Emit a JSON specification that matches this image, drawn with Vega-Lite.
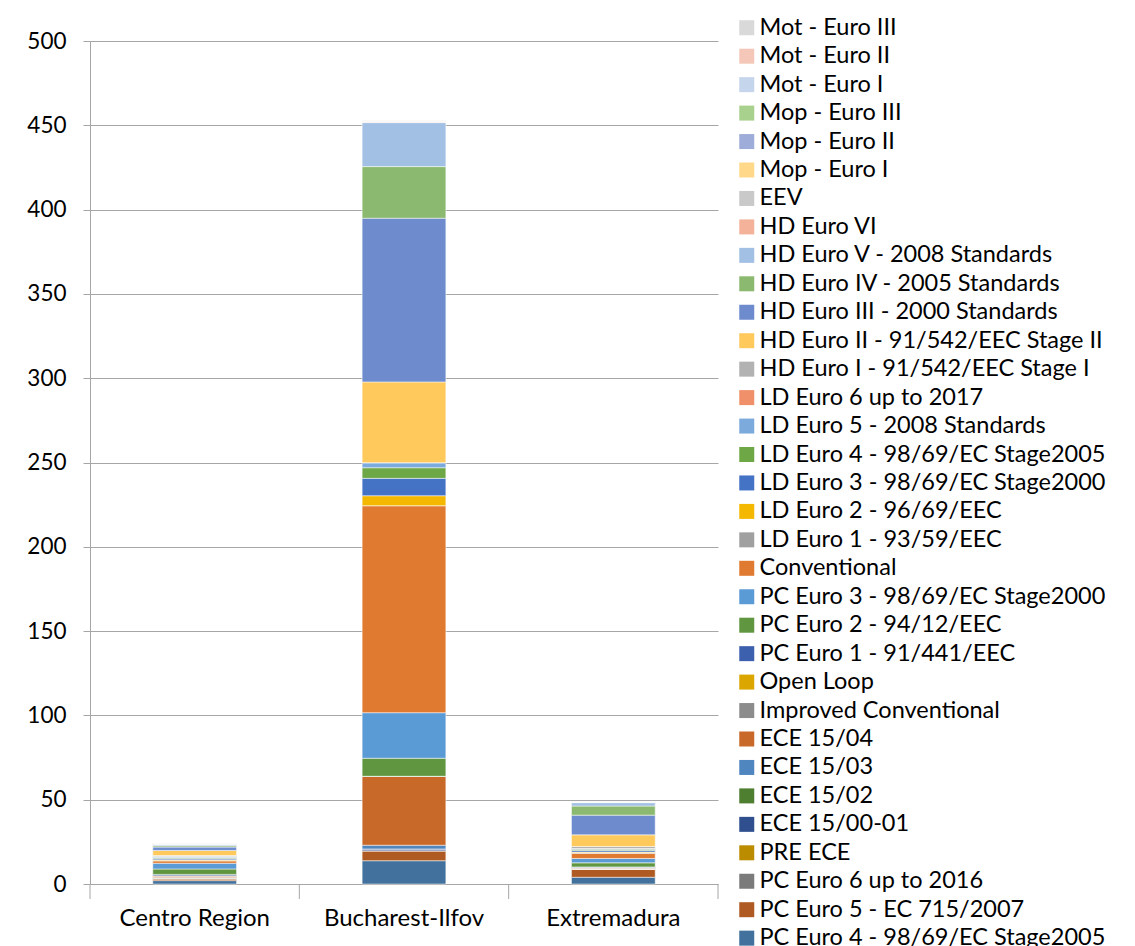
{
  "$schema": "https://vega.github.io/schema/vega-lite/v6.json",
  "width": 628,
  "height": 843,
  "autosize": {"type": "none"},
  "padding": {"left": 90, "top": 41, "right": 417, "bottom": 62},
  "background": "white",
  "config": {"view": {"stroke": null}, "font": "Lato"},
  "datasets": {
    "regions": [
      {"region": "Centro Region"},
      {"region": "Bucharest-Ilfov"},
      {"region": "Extremadura"}
    ],
    "emissions": [
    {"region": "Centro Region", "series": "PC Euro 4 - 98/69/EC Stage2005", "k": 1, "value": 2.0},
    {"region": "Bucharest-Ilfov", "series": "PC Euro 4 - 98/69/EC Stage2005", "k": 1, "value": 13.8},
    {"region": "Extremadura", "series": "PC Euro 4 - 98/69/EC Stage2005", "k": 1, "value": 4.0},
    {"region": "Centro Region", "series": "PC Euro 5 - EC 715/2007", "k": 2, "value": 1.0},
    {"region": "Bucharest-Ilfov", "series": "PC Euro 5 - EC 715/2007", "k": 2, "value": 5.9},
    {"region": "Extremadura", "series": "PC Euro 5 - EC 715/2007", "k": 2, "value": 4.7},
    {"region": "Centro Region", "series": "PC Euro 6 up to 2016", "k": 3, "value": 0.1},
    {"region": "Bucharest-Ilfov", "series": "PC Euro 6 up to 2016", "k": 3, "value": 0},
    {"region": "Extremadura", "series": "PC Euro 6 up to 2016", "k": 3, "value": 0.1},
    {"region": "Centro Region", "series": "PRE ECE", "k": 4, "value": 0.1},
    {"region": "Bucharest-Ilfov", "series": "PRE ECE", "k": 4, "value": 0},
    {"region": "Extremadura", "series": "PRE ECE", "k": 4, "value": 0.05},
    {"region": "Centro Region", "series": "ECE 15/00-01", "k": 5, "value": 0.2},
    {"region": "Bucharest-Ilfov", "series": "ECE 15/00-01", "k": 5, "value": 1.0},
    {"region": "Extremadura", "series": "ECE 15/00-01", "k": 5, "value": 0.2},
    {"region": "Centro Region", "series": "ECE 15/02", "k": 6, "value": 0.2},
    {"region": "Bucharest-Ilfov", "series": "ECE 15/02", "k": 6, "value": 0.1},
    {"region": "Extremadura", "series": "ECE 15/02", "k": 6, "value": 0.1},
    {"region": "Centro Region", "series": "ECE 15/03", "k": 7, "value": 0.3},
    {"region": "Bucharest-Ilfov", "series": "ECE 15/03", "k": 7, "value": 2.2},
    {"region": "Extremadura", "series": "ECE 15/03", "k": 7, "value": 0.2},
    {"region": "Centro Region", "series": "ECE 15/04", "k": 8, "value": 0.8},
    {"region": "Bucharest-Ilfov", "series": "ECE 15/04", "k": 8, "value": 40.9},
    {"region": "Extremadura", "series": "ECE 15/04", "k": 8, "value": 0.4},
    {"region": "Centro Region", "series": "Improved Conventional", "k": 9, "value": 0.1},
    {"region": "Bucharest-Ilfov", "series": "Improved Conventional", "k": 9, "value": 0},
    {"region": "Extremadura", "series": "Improved Conventional", "k": 9, "value": 0.05},
    {"region": "Centro Region", "series": "Open Loop", "k": 10, "value": 0.1},
    {"region": "Bucharest-Ilfov", "series": "Open Loop", "k": 10, "value": 0},
    {"region": "Extremadura", "series": "Open Loop", "k": 10, "value": 0.05},
    {"region": "Centro Region", "series": "PC Euro 1 - 91/441/EEC", "k": 11, "value": 0.8},
    {"region": "Bucharest-Ilfov", "series": "PC Euro 1 - 91/441/EEC", "k": 11, "value": 0},
    {"region": "Extremadura", "series": "PC Euro 1 - 91/441/EEC", "k": 11, "value": 0.3},
    {"region": "Centro Region", "series": "PC Euro 2 - 94/12/EEC", "k": 12, "value": 3.2},
    {"region": "Bucharest-Ilfov", "series": "PC Euro 2 - 94/12/EEC", "k": 12, "value": 10.7},
    {"region": "Extremadura", "series": "PC Euro 2 - 94/12/EEC", "k": 12, "value": 2.4},
    {"region": "Centro Region", "series": "PC Euro 3 - 98/69/EC Stage2000", "k": 13, "value": 3.4},
    {"region": "Bucharest-Ilfov", "series": "PC Euro 3 - 98/69/EC Stage2000", "k": 13, "value": 27.0},
    {"region": "Extremadura", "series": "PC Euro 3 - 98/69/EC Stage2000", "k": 13, "value": 2.6},
    {"region": "Centro Region", "series": "Conventional", "k": 14, "value": 1.4},
    {"region": "Bucharest-Ilfov", "series": "Conventional", "k": 14, "value": 122.8},
    {"region": "Extremadura", "series": "Conventional", "k": 14, "value": 3.1},
    {"region": "Centro Region", "series": "LD Euro 1 - 93/59/EEC", "k": 15, "value": 0.3},
    {"region": "Bucharest-Ilfov", "series": "LD Euro 1 - 93/59/EEC", "k": 15, "value": 0},
    {"region": "Extremadura", "series": "LD Euro 1 - 93/59/EEC", "k": 15, "value": 0.3},
    {"region": "Centro Region", "series": "LD Euro 2 - 96/69/EEC", "k": 16, "value": 0.4},
    {"region": "Bucharest-Ilfov", "series": "LD Euro 2 - 96/69/EEC", "k": 16, "value": 5.9},
    {"region": "Extremadura", "series": "LD Euro 2 - 96/69/EEC", "k": 16, "value": 0.4},
    {"region": "Centro Region", "series": "LD Euro 3 - 98/69/EC Stage2000", "k": 17, "value": 0.7},
    {"region": "Bucharest-Ilfov", "series": "LD Euro 3 - 98/69/EC Stage2000", "k": 17, "value": 10.3},
    {"region": "Extremadura", "series": "LD Euro 3 - 98/69/EC Stage2000", "k": 17, "value": 0.9},
    {"region": "Centro Region", "series": "LD Euro 4 - 98/69/EC Stage2005", "k": 18, "value": 0.6},
    {"region": "Bucharest-Ilfov", "series": "LD Euro 4 - 98/69/EC Stage2005", "k": 18, "value": 6.3},
    {"region": "Extremadura", "series": "LD Euro 4 - 98/69/EC Stage2005", "k": 18, "value": 0.8},
    {"region": "Centro Region", "series": "LD Euro 5 - 2008 Standards", "k": 19, "value": 0.5},
    {"region": "Bucharest-Ilfov", "series": "LD Euro 5 - 2008 Standards", "k": 19, "value": 3.0},
    {"region": "Extremadura", "series": "LD Euro 5 - 2008 Standards", "k": 19, "value": 0.3},
    {"region": "Centro Region", "series": "LD Euro 6 up to 2017", "k": 20, "value": 0.1},
    {"region": "Bucharest-Ilfov", "series": "LD Euro 6 up to 2017", "k": 20, "value": 0},
    {"region": "Extremadura", "series": "LD Euro 6 up to 2017", "k": 20, "value": 0.1},
    {"region": "Centro Region", "series": "HD Euro I - 91/542/EEC Stage I", "k": 21, "value": 0.6},
    {"region": "Bucharest-Ilfov", "series": "HD Euro I - 91/542/EEC Stage I", "k": 21, "value": 0},
    {"region": "Extremadura", "series": "HD Euro I - 91/542/EEC Stage I", "k": 21, "value": 1.2},
    {"region": "Centro Region", "series": "HD Euro II - 91/542/EEC Stage II", "k": 22, "value": 3.0},
    {"region": "Bucharest-Ilfov", "series": "HD Euro II - 91/542/EEC Stage II", "k": 22, "value": 47.9},
    {"region": "Extremadura", "series": "HD Euro II - 91/542/EEC Stage II", "k": 22, "value": 6.9},
    {"region": "Centro Region", "series": "HD Euro III - 2000 Standards", "k": 23, "value": 2.0},
    {"region": "Bucharest-Ilfov", "series": "HD Euro III - 2000 Standards", "k": 23, "value": 97.1},
    {"region": "Extremadura", "series": "HD Euro III - 2000 Standards", "k": 23, "value": 11.7},
    {"region": "Centro Region", "series": "HD Euro IV - 2005 Standards", "k": 24, "value": 0.8},
    {"region": "Bucharest-Ilfov", "series": "HD Euro IV - 2005 Standards", "k": 24, "value": 30.6},
    {"region": "Extremadura", "series": "HD Euro IV - 2005 Standards", "k": 24, "value": 5.4},
    {"region": "Centro Region", "series": "HD Euro V - 2008 Standards", "k": 25, "value": 0.6},
    {"region": "Bucharest-Ilfov", "series": "HD Euro V - 2008 Standards", "k": 25, "value": 26.1},
    {"region": "Extremadura", "series": "HD Euro V - 2008 Standards", "k": 25, "value": 2.0},
    {"region": "Centro Region", "series": "HD Euro VI", "k": 26, "value": 0.1},
    {"region": "Bucharest-Ilfov", "series": "HD Euro VI", "k": 26, "value": 0.3},
    {"region": "Extremadura", "series": "HD Euro VI", "k": 26, "value": 0.1},
    {"region": "Centro Region", "series": "EEV", "k": 27, "value": 0.1},
    {"region": "Bucharest-Ilfov", "series": "EEV", "k": 27, "value": 0.2},
    {"region": "Extremadura", "series": "EEV", "k": 27, "value": 0.1},
    {"region": "Centro Region", "series": "Mop - Euro I", "k": 28, "value": 0.1},
    {"region": "Bucharest-Ilfov", "series": "Mop - Euro I", "k": 28, "value": 0.1},
    {"region": "Extremadura", "series": "Mop - Euro I", "k": 28, "value": 0.05},
    {"region": "Centro Region", "series": "Mop - Euro II", "k": 29, "value": 0.1},
    {"region": "Bucharest-Ilfov", "series": "Mop - Euro II", "k": 29, "value": 0.1},
    {"region": "Extremadura", "series": "Mop - Euro II", "k": 29, "value": 0.05},
    {"region": "Centro Region", "series": "Mop - Euro III", "k": 30, "value": 0.1},
    {"region": "Bucharest-Ilfov", "series": "Mop - Euro III", "k": 30, "value": 0.1},
    {"region": "Extremadura", "series": "Mop - Euro III", "k": 30, "value": 0.05},
    {"region": "Centro Region", "series": "Mot - Euro I", "k": 31, "value": 0.1},
    {"region": "Bucharest-Ilfov", "series": "Mot - Euro I", "k": 31, "value": 0.1},
    {"region": "Extremadura", "series": "Mot - Euro I", "k": 31, "value": 0.05},
    {"region": "Centro Region", "series": "Mot - Euro II", "k": 32, "value": 0.1},
    {"region": "Bucharest-Ilfov", "series": "Mot - Euro II", "k": 32, "value": 0.4},
    {"region": "Extremadura", "series": "Mot - Euro II", "k": 32, "value": 0.05},
    {"region": "Centro Region", "series": "Mot - Euro III", "k": 33, "value": 0.1},
    {"region": "Bucharest-Ilfov", "series": "Mot - Euro III", "k": 33, "value": 0.1},
    {"region": "Extremadura", "series": "Mot - Euro III", "k": 33, "value": 0.05}
    ]
  },
  "layer": [
    {
      "data": {"name": "emissions"},
      "mark": {"type": "bar", "stroke": "white", "strokeWidth": 0.5},
      "encoding": {
        "x": {
          "field": "region", "type": "nominal",
          "sort": ["Centro Region", "Bucharest-Ilfov", "Extremadura"],
          "scale": {"paddingInner": 0.6, "paddingOuter": 0.3},
          "axis": {"title": null, "labelAngle": 0, "labelFontSize": 24, "labelColor": "#000000", "ticks": false, "domainColor": "#A6A6A6", "labelPadding": 22}
        },
        "y": {
          "field": "value", "type": "quantitative", "stack": "zero",
          "scale": {"domain": [0, 500], "nice": false},
          "axis": {"title": null, "values": [0, 50, 100, 150, 200, 250, 300, 350, 400, 450, 500], "grid": true, "gridColor": "#A6A6A6", "tickColor": "#A6A6A6", "domainColor": "#A6A6A6", "tickSize": 7, "labelPadding": 17, "labelFontSize": 22.5, "labelColor": "#000000"}
        },
        "color": {
          "field": "series", "type": "nominal",
          "scale": {
            "domain": ["Mot - Euro III", "Mot - Euro II", "Mot - Euro I", "Mop - Euro III", "Mop - Euro II", "Mop - Euro I", "EEV", "HD Euro VI", "HD Euro V - 2008 Standards", "HD Euro IV - 2005 Standards", "HD Euro III - 2000 Standards", "HD Euro II - 91/542/EEC Stage II", "HD Euro I - 91/542/EEC Stage I", "LD Euro 6 up to 2017", "LD Euro 5 - 2008 Standards", "LD Euro 4 - 98/69/EC Stage2005", "LD Euro 3 - 98/69/EC Stage2000", "LD Euro 2 - 96/69/EEC", "LD Euro 1 - 93/59/EEC", "Conventional", "PC Euro 3 - 98/69/EC Stage2000", "PC Euro 2 - 94/12/EEC", "PC Euro 1 - 91/441/EEC", "Open Loop", "Improved Conventional", "ECE 15/04", "ECE 15/03", "ECE 15/02", "ECE 15/00-01", "PRE ECE", "PC Euro 6 up to 2016", "PC Euro 5 - EC 715/2007", "PC Euro 4 - 98/69/EC Stage2005"],
            "range": ["#D9D9D9", "#F4C7B8", "#C5D5EC", "#A9D18E", "#9DACD9", "#FFD88A", "#C9C9C9", "#F4B29B", "#A2C0E4", "#8AB96F", "#6E8BCE", "#FFC95C", "#B2B2B2", "#F0906A", "#7DAADD", "#6EA846", "#4472C4", "#F5B800", "#A0A0A0", "#E07A30", "#5B9BD5", "#619640", "#3D60AE", "#DCA600", "#8C8C8C", "#C8692A", "#4F86C0", "#4E7E30", "#2F4F8F", "#BC8C00", "#7B7B7B", "#B05A23", "#41719C"]
          },
          "legend": {"title": null, "orient": "none", "legendX": 645, "legendY": -25, "symbolType": "square", "symbolSize": 225, "symbolStrokeWidth": 0, "labelFontSize": 23.5, "labelLimit": 500, "symbolLimit": 50, "rowPadding": 3.45, "labelOffset": 1, "labelColor": "#000000", "padding": 0}
        },
        "order": {"field": "k", "type": "quantitative", "sort": "ascending"}
      }
    },
    {
      "data": {"name": "regions"},
      "mark": {"type": "rule", "color": "#A6A6A6", "strokeWidth": 1, "clip": false},
      "encoding": {
        "x": {"field": "region", "type": "nominal", "sort": ["Centro Region", "Bucharest-Ilfov", "Extremadura"], "bandPosition": -0.75},
        "y": {"datum": 0},
        "y2": {"datum": -8.9}
      }
    },
    {
      "data": {"name": "regions"},
      "transform": [{"filter": "datum.region === 'Extremadura'"}],
      "mark": {"type": "rule", "color": "#A6A6A6", "strokeWidth": 1, "clip": false},
      "encoding": {
        "x": {"field": "region", "type": "nominal", "sort": ["Centro Region", "Bucharest-Ilfov", "Extremadura"], "bandPosition": 1.75},
        "y": {"datum": 0},
        "y2": {"datum": -8.9}
      }
    }
  ]
}
